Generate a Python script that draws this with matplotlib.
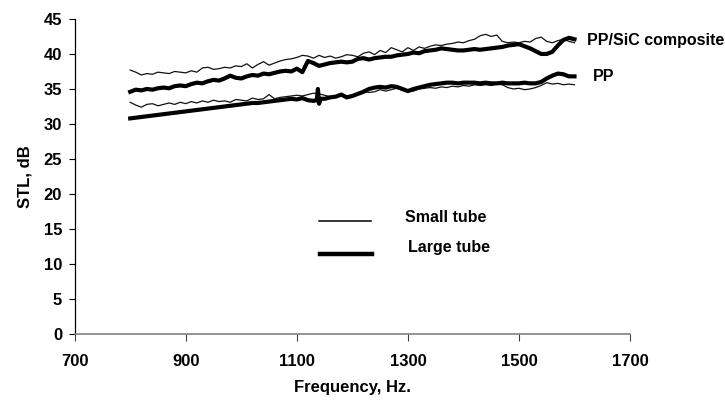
import matplotlib
matplotlib.use("Agg")
import matplotlib.pyplot as plt

plt.rcParams['font.family'] = ['Liberation Sans', 'DejaVu Sans']
plt.rcParams['font.weight'] = 'bold'

freq = list(range(800, 1601, 10))

sic_small = [37.7, 37.4, 37.0, 37.2, 37.1, 37.4, 37.3, 37.2, 37.5, 37.4,
             37.3, 37.6, 37.4, 38.0, 38.1, 37.8, 37.9, 38.1, 38.0, 38.3,
             38.2, 38.6, 38.0, 38.5, 38.9, 38.4, 38.7, 39.0, 39.2, 39.3,
             39.5, 39.8, 39.7, 39.4, 39.8, 39.5, 39.7, 39.4, 39.6, 39.9,
             39.8, 39.6, 40.1, 40.3, 39.9, 40.5, 40.2, 40.9, 40.6, 40.3,
             40.9, 40.5, 41.0, 40.8, 41.1, 41.3, 41.2, 41.4, 41.5, 41.7,
             41.6, 41.9, 42.1, 42.6, 42.8, 42.5, 42.7, 41.8, 41.6, 41.7,
             41.6, 41.8, 41.7, 42.2, 42.4, 41.8, 41.6, 41.9, 42.1, 41.8,
             41.6]

sic_large = [34.6, 34.9, 34.8, 35.0, 34.9, 35.1, 35.2, 35.1, 35.4, 35.5,
             35.4, 35.7, 35.9, 35.8, 36.1, 36.3, 36.2, 36.5, 36.9, 36.6,
             36.5, 36.8, 37.0, 36.9, 37.2, 37.1, 37.3, 37.5, 37.6, 37.5,
             37.9, 37.4, 39.0, 38.7, 38.3, 38.5, 38.7, 38.8, 38.9, 38.8,
             38.9, 39.3, 39.4, 39.2, 39.4, 39.5, 39.6, 39.6, 39.8, 39.9,
             40.0, 40.2, 40.1, 40.4, 40.5, 40.6, 40.8, 40.7, 40.6, 40.5,
             40.5, 40.6, 40.7, 40.6, 40.7, 40.8, 40.9, 41.0, 41.2, 41.3,
             41.4, 41.1, 40.8, 40.4, 40.0, 40.0, 40.3, 41.2, 42.0, 42.3,
             42.1]

pp_small = [33.1, 32.7, 32.4, 32.8, 32.9, 32.6, 32.8, 33.0, 32.8, 33.1,
            32.9, 33.2, 33.0, 33.3, 33.1, 33.4, 33.2, 33.3, 33.1, 33.5,
            33.4, 33.3, 33.7, 33.5, 33.6, 34.2, 33.6, 33.8, 33.9, 34.0,
            34.1, 34.0, 34.2, 34.4, 34.3, 34.1, 33.9, 34.0, 34.1, 34.0,
            33.9, 34.3, 34.7, 34.5, 34.6, 34.9, 34.7, 34.9, 35.1, 34.8,
            34.6, 34.7, 35.0, 35.1, 35.2, 35.1, 35.3, 35.2, 35.4, 35.3,
            35.5, 35.4, 35.6, 35.5, 35.6, 35.5, 35.7, 35.6, 35.2, 35.0,
            35.1, 34.9, 35.0, 35.2, 35.5, 35.9, 35.7, 35.8, 35.6, 35.7,
            35.6]

pp_large_freq = [800, 810, 820, 830, 840, 850, 860, 870, 880, 890,
                 900, 910, 920, 930, 940, 950, 960, 970, 980, 990,
                 1000, 1010, 1020, 1030, 1040, 1050, 1060, 1070, 1080, 1090,
                 1100, 1110, 1120, 1130, 1136, 1138, 1140, 1143, 1150, 1160,
                 1170, 1180, 1190, 1200, 1210, 1220, 1230, 1240, 1250, 1260,
                 1270, 1280, 1290, 1300, 1310, 1320, 1330, 1340, 1350, 1360,
                 1370, 1380, 1390, 1400, 1410, 1420, 1430, 1440, 1450, 1460,
                 1470, 1480, 1490, 1500, 1510, 1520, 1530, 1540, 1550, 1560,
                 1570, 1580, 1590, 1600]
pp_large = [30.8, 30.9, 31.0, 31.1, 31.2, 31.3, 31.4, 31.5, 31.6, 31.7,
            31.8, 31.9, 32.0, 32.1, 32.2, 32.3, 32.4, 32.5, 32.6, 32.7,
            32.8, 32.9, 33.0, 33.0, 33.1, 33.2, 33.3, 33.4, 33.5, 33.6,
            33.5, 33.7, 33.4, 33.3, 33.4, 35.0, 32.9, 33.6, 33.6, 33.8,
            33.9, 34.2, 33.8, 34.0, 34.3, 34.6, 35.0, 35.2, 35.3, 35.2,
            35.4, 35.3, 35.0, 34.7, 35.0, 35.2, 35.4, 35.6, 35.7, 35.8,
            35.9, 35.9, 35.8, 35.9, 35.9, 35.9, 35.8, 35.9, 35.8, 35.8,
            35.9, 35.8, 35.8, 35.8, 35.9, 35.8, 35.8, 36.0, 36.5, 36.9,
            37.2, 37.1, 36.8, 36.8]

xticks = [700, 900, 1100, 1300, 1500, 1700]
yticks = list(range(0, 46, 5))

fig = plt.figure(figsize=(7.25, 4.03), dpi=100)
ax = fig.add_axes([0.103, 0.171, 0.766, 0.782])

thin = dict(color='#111111', lw=0.9)
thick = dict(color='black', lw=3.0)
ax.plot(freq, sic_small, **thin)
ax.plot(freq, sic_large, **thick)
ax.plot(freq, pp_small, **thin)
ax.plot(pp_large_freq, pp_large, **thick)

ax.set_xlim(700, 1700)
ax.set_ylim(0, 45)
ax.set_xticks(xticks)
ax.set_yticks(yticks)
ax.spines['top'].set_visible(False)
ax.spines['right'].set_visible(False)
ax.spines['bottom'].set_color('#808080')
ax.spines['bottom'].set_linewidth(1.2)
ax.spines['left'].set_linewidth(0.9)
ax.tick_params(axis='both', direction='out', length=4, width=0.8,
               labelsize=12, pad=5)
ax.tick_params(axis='x', length=5, color='#404040', pad=9)
for lab in ax.get_xticklabels() + ax.get_yticklabels():
    lab.set_fontweight('bold')

ax.set_xlabel('Frequency, Hz.', fontsize=12, fontweight='bold', labelpad=8)
ax.set_ylabel('STL, dB', fontsize=12, fontweight='bold', labelpad=8)

ax.text(1622, 41.9, 'PP/SiC composite', fontsize=11.5, fontweight='bold',
        va='center', ha='left', clip_on=False)
ax.text(1633, 36.8, 'PP', fontsize=11.5, fontweight='bold',
        va='center', ha='left', clip_on=False)

ax.plot([1140, 1233], [16.2, 16.2], color='black', lw=1.1)
ax.plot([1142, 1235], [11.4, 11.4], color='black', lw=3.2)
ax.text(1294, 16.6, 'Small tube', fontsize=11.5, fontweight='bold', va='center')
ax.text(1300, 12.3, 'Large tube', fontsize=11.5, fontweight='bold', va='center')

fig.savefig('out.png', dpi=100)
